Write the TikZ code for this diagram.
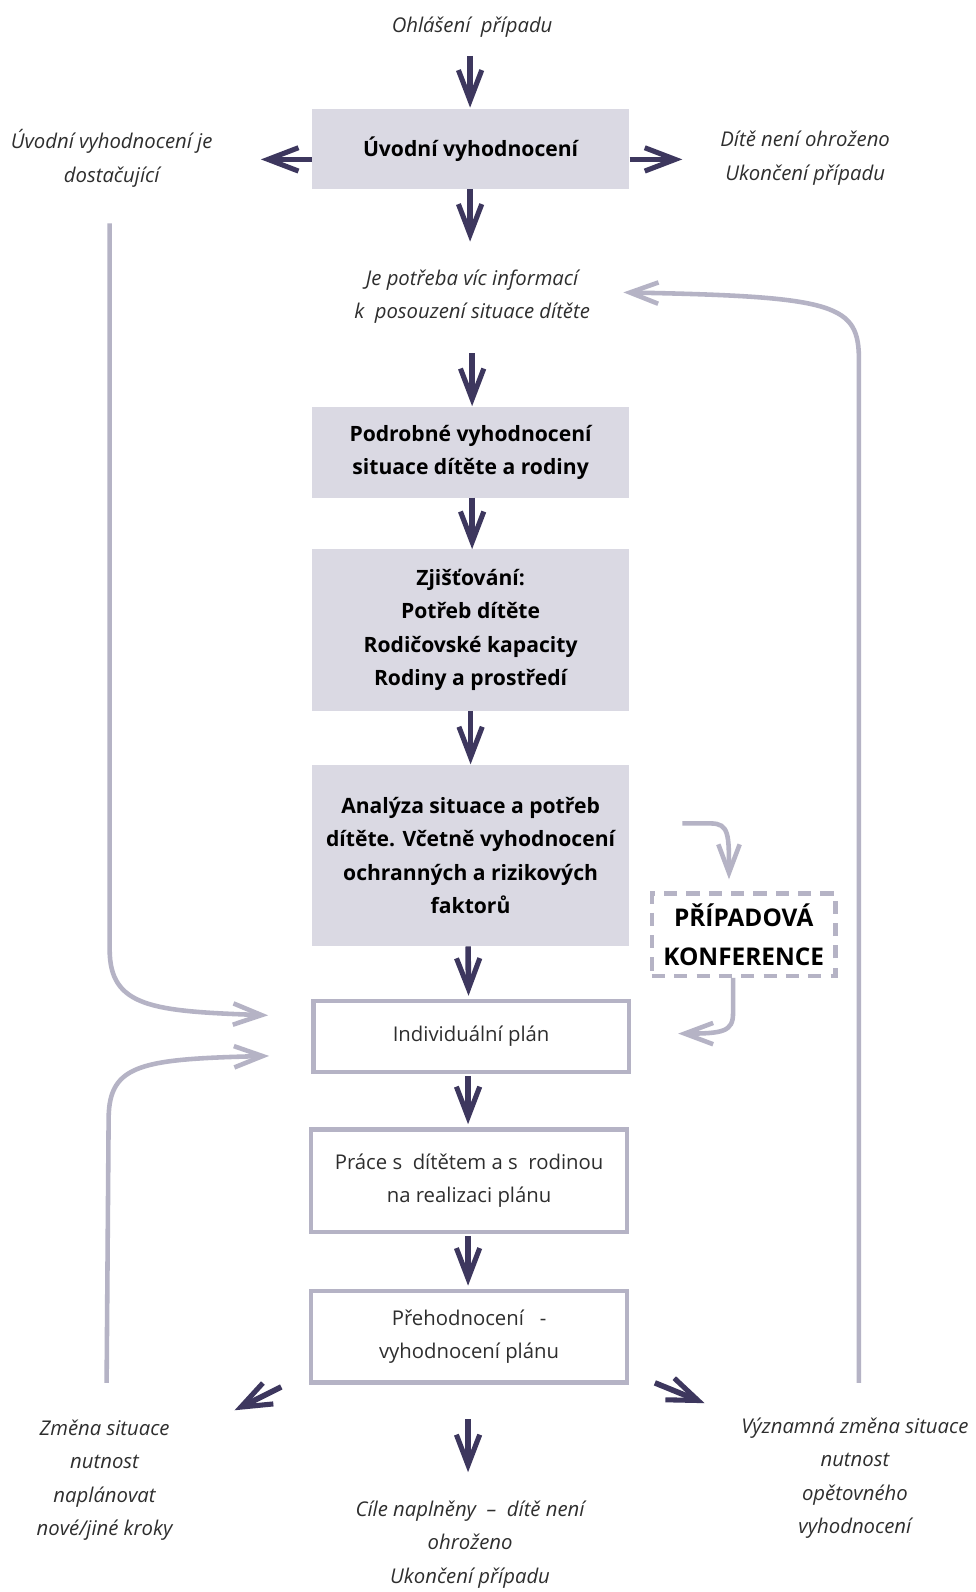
\documentclass[tikz,border=0pt]{standalone}
\usepackage{fontspec}
\setmainfont{Open Sans}
\newfontfamily\itf{Open Sans}
\usetikzlibrary{arrows.meta}
\definecolor{boxgray}{HTML}{DAD9E3}
\definecolor{bordergray}{HTML}{B5B3C5}
\definecolor{darkarrow}{HTML}{3D375E}
\definecolor{txtgray}{HTML}{2E2E2E}
\tikzset{
  darr/.style={draw=darkarrow,line width=5.5pt,-{Straight Barb[length=30pt,width=23pt,line width=5pt]}},
  garr/.style={draw=bordergray,line width=4.5pt,-{Straight Barb[length=28pt,width=21pt,line width=4.5pt]}},
  fillbox/.style={fill=boxgray,minimum width=313pt,align=center,font=\fontsize{20.8}{33}\selectfont\bfseries,text=black,inner sep=0pt},
  linebox/.style={draw=bordergray,line width=4.5pt,fill=white,minimum width=311pt,align=center,font=\fontsize{20}{33}\selectfont,text=txtgray,inner sep=0pt},
  note/.style={align=center,font=\fontsize{20}{33}\itf\itshape,text=txtgray,inner sep=0pt},
  dashbox/.style={draw=bordergray,line width=4.2pt,dash pattern=on 13pt off 9pt,minimum width=181pt,minimum height=81pt,align=center,font=\fontsize{24}{38}\selectfont\bfseries,text=black,inner sep=0pt}
}
\begin{document}
\begin{tikzpicture}[x=1pt,y=-1pt]
\useasboundingbox[fill=white] (0,0) rectangle (961,1568);

% top
\node[note] (ohl) at (465,27) {Ohlášení\ \ případu};
\node[fillbox,minimum height=79pt] (b1) at (463.5,146.5) {Úvodní vyhodnocení};
\node[note] (ldost) at (110,156) {Úvodní vyhodnocení je\\dostačující};
\node[note] (rdite) at (793,156) {Dítě není ohroženo\\Ukončení případu};
\node[note] (info) at (465,292) {Je potřeba víc informací\\k\ \ posouzení situace dítěte};

\coordinate (a0s) at (463,55);
\coordinate (a0e) at (463,106);
\draw[darr] (a0s) -- (a0e);
\coordinate (lend) at (257,157);
\coordinate (rend) at (672,157);
\draw[darr] (b1.west |- lend) -- (lend);
\draw[darr] (b1.east |- rend) -- (rend);
\coordinate (a1e) at (463,238);
\draw[darr] (b1.south -| a1e) -- (a1e);

\node[fillbox,minimum height=89pt] (b2) at (463.5,445.5) {Podrobné vyhodnocení\\situace dítěte a rodiny};
\coordinate (a2s) at (465,348);
\coordinate (a2e) at (465,400);
\draw[darr] (a2s) -- (a2e);

\node[fillbox,minimum height=159pt] (b3) at (463.5,620.5) {Zjišťování:\\Potřeb dítěte\\Rodičovské kapacity\\Rodiny a prostředí};
\draw[darr] ([xshift=1.5pt]b2.south) -- ([xshift=1.5pt]b3.north);

\node[fillbox,minimum height=179pt] (b4) at (463.5,842.5) {Analýza situace a potřeb\\dítěte. Včetně vyhodnocení\\ochranných a rizikových\\faktorů};
\draw[darr] (b3.south) -- (b4.north);

\node[linebox,minimum height=70pt] (b5) at (464,1021) {Individuální plán};
\draw[darr,shorten >=3pt] ([xshift=-2.5pt]b4.south) -- ([xshift=-2.5pt]b5.north);

\node[linebox,minimum height=101pt] (b6) at (462,1163) {Práce s\ \ dítětem a s\ \ rodinou\\na realizaci plánu};
\draw[darr,shorten >=3pt,shorten <=2pt] ([xshift=-3pt]b5.south) -- ([xshift=-1pt]b6.north);

\node[linebox,minimum height=90pt] (b7) at (462,1316.5) {Přehodnocení\ \ \ -\\vyhodnocení plánu};
\draw[darr,shorten >=3pt,shorten <=2pt] ([xshift=-1pt]b6.south) -- ([xshift=-1pt]b7.north);

% dashed conference box
\node[dashbox] (konf) at (732.5,920.5) {PŘÍPADOVÁ\\KONFERENCE};
\coordinate (k1s) at (672,811);
\coordinate (k1e) at (718,866);
\draw[garr] (k1s) -- (700,811) .. controls (718,811) and (718,822) .. (k1e);
\coordinate (k2e) at (668,1018);
\draw[garr] (konf.south -| 722,0) -- (722,998) .. controls (722,1016) and (712,1018) .. (k2e);

% long gray loops
\coordinate (l1s) at (108,220);
\coordinate (l1e) at (264,1000);
\draw[garr] (l1s) -- (108,935) .. controls (108,992) and (150,996) .. (l1e);
\coordinate (l2s) at (105,1362);
\coordinate (l2e) at (265,1040);
\draw[garr] (l2s) -- (107,1100) .. controls (108,1048) and (140,1043) .. (l2e);
\coordinate (r1s) at (846,1362);
\coordinate (r1e) at (614,288);
\draw[garr] (r1s) -- (846,355) .. controls (846,300) and (825,292) .. (r1e);

% bottom
\coordinate (dls) at (277,1366);
\coordinate (dle) at (231,1389);
\draw[darr] (dls) -- (dle);
\coordinate (drs) at (645,1362);
\coordinate (dre) at (694,1382);
\draw[darr] (drs) -- (dre);
\coordinate (dms) at (461,1398);
\coordinate (dme) at (461,1450);
\draw[darr] (dms) -- (dme);

\node[note] (zmena) at (103,1458) {Změna situace\\nutnost\\naplánovat\\nové/jiné kroky};
\node[note] (cile) at (463,1521) {Cíle naplněny\ \ –\ \ dítě není\\ohroženo\\Ukončení případu};
\node[note] (vyzn) at (842,1456) {Významná změna situace\\nutnost\\opětovného\\vyhodnocení};
\end{tikzpicture}
\end{document}
